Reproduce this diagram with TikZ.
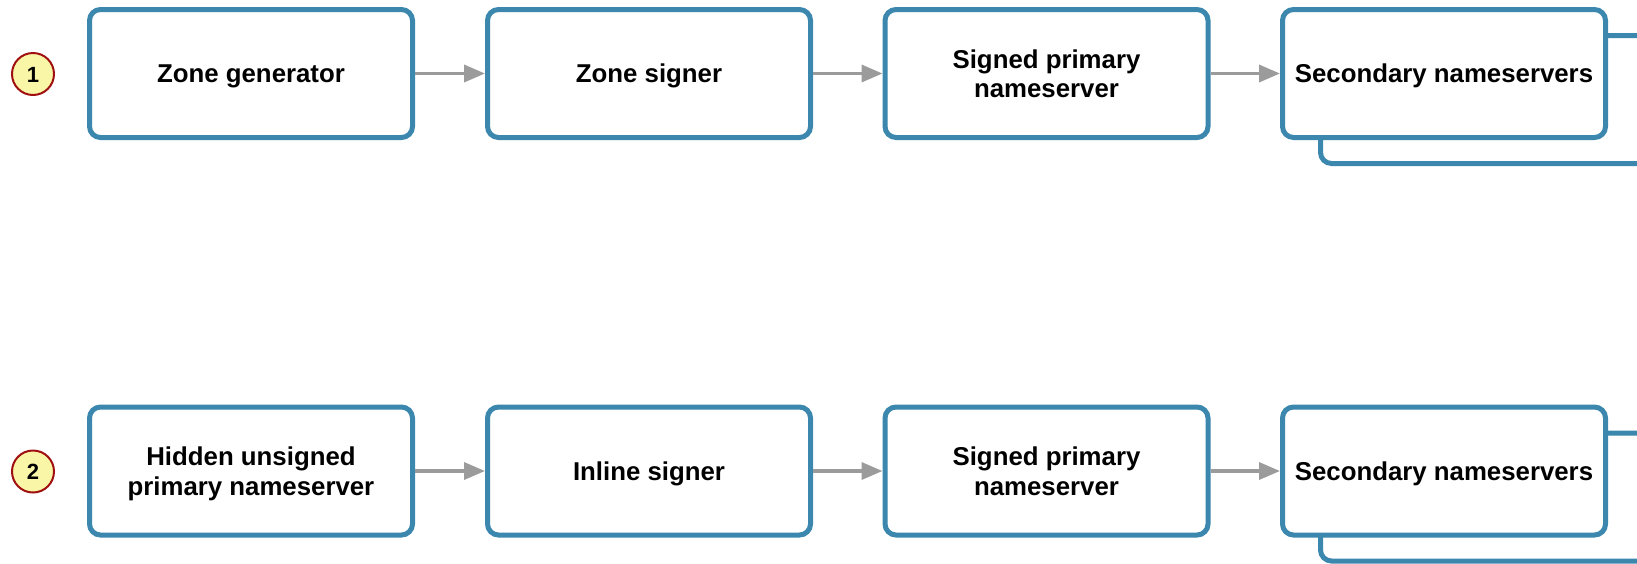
\documentclass[tikz,border=0pt]{standalone}
\usepackage{fontspec}
\setmainfont{Liberation Sans}
\usetikzlibrary{arrows.meta}

\definecolor{boxblue}{RGB}{59,135,173}
\definecolor{flowgray}{RGB}{155,155,155}
\definecolor{badgefill}{RGB}{249,246,168}
\definecolor{badgeline}{RGB}{160,16,16}

\tikzset{
  stage/.style={draw=boxblue, line width=5pt, fill=white, rounded corners=11pt,
    minimum width=323pt, minimum height=128pt, inner sep=0pt,
    align=center, text depth=0pt,
    font=\bfseries\fontsize{25.8}{29.5}\selectfont},
  oneline/.style={text height=18.8pt},
  % the stacked copy behind the secondary servers runs off the right edge
  stack/.style={stage, minimum width=360pt},
  badge/.style={circle, draw=badgeline, line width=2pt, fill=badgefill,
    minimum size=42pt, inner sep=0pt, text height=16pt, text depth=0pt,
    font=\bfseries\fontsize{22}{24}\selectfont},
  flow/.style={draw=flowgray, line width=3.5pt,
    -{Triangle[length=21pt,width=17pt]}},
}

\begin{document}
\begin{tikzpicture}[x=1pt, y=-1pt]
  \useasboundingbox (0,0) rectangle (1637,563);
  \clip (0,0) rectangle (1637,563);

  % Row 1: offline zone signing
  \node[badge] (n1) at (33,74) {1};
  \node[stage, oneline] (gen)  at (251,73.5) {Zone generator};
  \node[stage, oneline] (sign) at (649,73.5) {Zone signer};
  \node[stage] (pri1) at (1046.5,73.5) {Signed primary\\nameserver};
  \node[stack] (sec1back) at (1500.5,99.5) {};
  \node[stage, oneline] (sec1) at (1444,73.5) {Secondary nameservers};

  \draw[flow] (gen)  -- (sign);
  \draw[flow] (sign) -- (pri1);
  \draw[flow] (pri1) -- (sec1);

  % Row 2: inline signing
  \node[badge] (n2) at (33,471.5) {2};
  \node[stage] (hid) at (251,471) {Hidden unsigned\\primary nameserver};
  \node[stage, oneline] (inline) at (649,471) {Inline signer};
  \node[stage] (pri2) at (1046.5,471) {Signed primary\\nameserver};
  \node[stack] (sec2back) at (1500.5,497) {};
  \node[stage, oneline] (sec2) at (1444,471) {Secondary nameservers};

  \draw[flow] (hid)    -- (inline);
  \draw[flow] (inline) -- (pri2);
  \draw[flow] (pri2)   -- (sec2);
\end{tikzpicture}
\end{document}
